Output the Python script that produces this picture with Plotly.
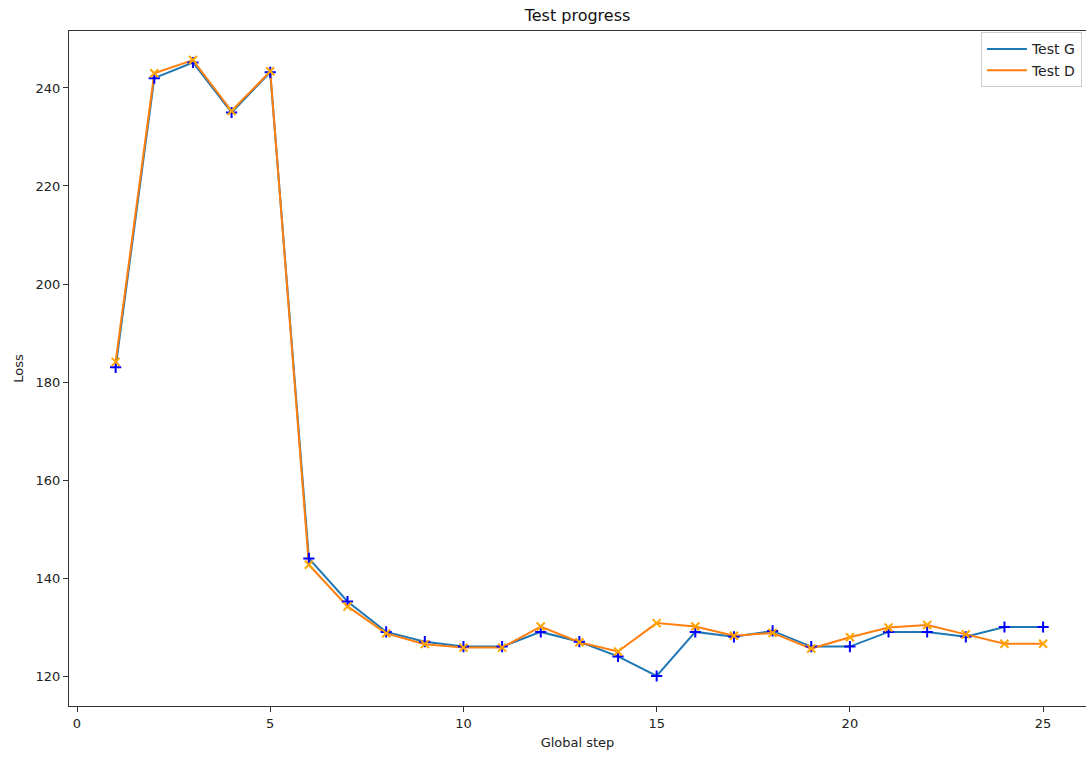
import plotly.graph_objects as go

steps = list(range(1, 26))
test_g = [183.0, 242.0, 245.2, 235.0, 243.2, 144.0, 135.2, 129.0, 127.0, 126.0, 126.0, 129.0, 127.0, 124.0, 120.0,
          129.0, 128.0, 129.2, 126.0, 126.0, 129.0, 129.0, 128.0, 130.0, 130.0]
test_d = [184.1, 243.0, 245.7, 235.3, 243.4, 142.7, 134.2, 128.7, 126.5, 125.8, 125.8, 130.1, 126.9, 125.0, 130.8,
          130.1, 128.2, 128.8, 125.6, 127.9, 129.9, 130.4, 128.5, 126.6, 126.6]

x_ticks = [0, 5, 10, 15, 20, 25]
y_ticks = [120, 140, 160, 180, 200, 220, 240]

font = "DejaVu Sans"
fig = go.Figure()
fig.add_trace(go.Scatter(x=steps, y=test_g, mode="lines", name="Test G",
                         line=dict(color="#1f77b4", width=2)))
fig.add_trace(go.Scatter(x=steps, y=test_d, mode="lines", name="Test D",
                         line=dict(color="#ff7f0e", width=2)))
fig.add_trace(go.Scatter(x=steps, y=test_g, mode="markers", showlegend=False,
                         marker=dict(symbol="cross-thin", size=8, color="blue",
                                     line=dict(color="blue", width=2))))
fig.add_trace(go.Scatter(x=steps, y=test_d, mode="markers", showlegend=False,
                         marker=dict(symbol="x-thin", size=8, color="orange",
                                     line=dict(color="orange", width=2))))

axis_common = dict(showgrid=False, zeroline=False, showline=True, linecolor="#333",
                   linewidth=1.2, ticks="outside", ticklen=5, tickcolor="#333",
                   tickfont=dict(family=font, size=13, color="#222"))
fig.update_layout(
    width=1086, height=760,
    margin=dict(l=69, r=0, t=31, b=54),
    paper_bgcolor="white", plot_bgcolor="white",
    font=dict(family=font, color="#222"),
    title=dict(text="Test progress", x=(69 + 1086) / 2 / 1086, xanchor="center",
               y=1 - 15 / 760, yanchor="middle", font=dict(family=font, size=16, color="#111")),
    xaxis=dict(range=[-0.207, 26.11], tickvals=x_ticks, mirror=True,
               title=dict(text="Global step", font=dict(family=font, size=13), standoff=8),
               **axis_common),
    yaxis=dict(range=[113.88, 251.63], tickvals=y_ticks, mirror=False,
               title=dict(text="Loss", font=dict(family=font, size=13), standoff=8),
               **axis_common),
    legend=dict(x=0.996, y=0.998, xanchor="right", yanchor="top",
                bgcolor="rgba(255,255,255,0.8)", bordercolor="#ccc", borderwidth=1,
                itemwidth=40, tracegroupgap=4,
                font=dict(family=font, size=14)),
)
fig.write_html("out.html")
